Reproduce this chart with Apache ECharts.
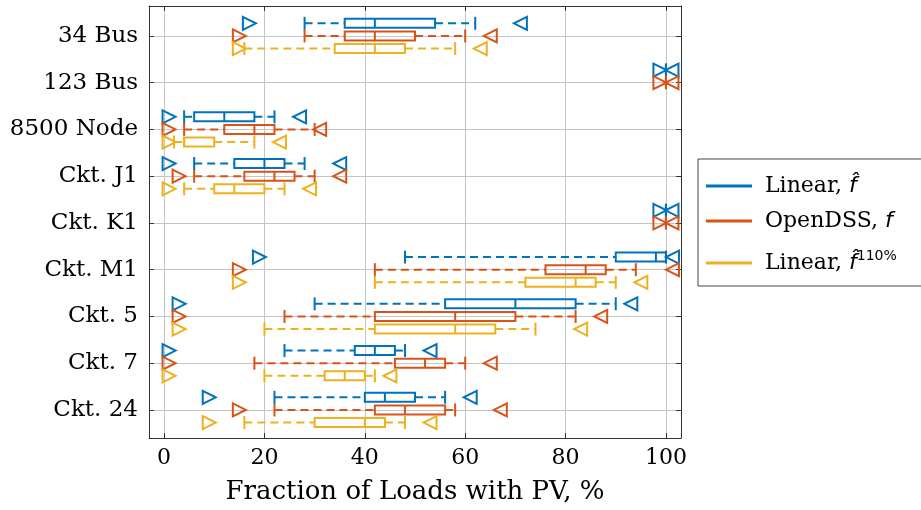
<!DOCTYPE html>
<html><head><meta charset="utf-8">
<script src="https://cdn.jsdelivr.net/npm/echarts@6/dist/echarts.min.js"></script>
<style>html,body{margin:0;padding:0;background:#fff}#c{width:921px;height:510px}</style>
</head><body><div id="c"></div>
<script>
const categories = ['34 Bus','123 Bus','8500 Node','Ckt. J1','Ckt. K1','Ckt. M1','Ckt. 5','Ckt. 7','Ckt. 24'];
const xTicks = [0,20,40,60,80,100];
// row: [whiskerLow, q1, median, q3, whiskerHigh, minMarker, maxMarker]
const linearF = [
  [28,36,42,54,62,17,71],
  [100,100,100,100,100,98.8,101.2],
  [4,6,12,18,22,1,27],
  [6,14,20,24,28,1,35],
  [100,100,100,100,100,98.8,101.2],
  [48,90,98,100,100,19,101.3],
  [30,56,70,82,90,3,93],
  [24,38,42,46,48,1,53],
  [22,40,44,50,56,9,61]
];
const openDSS = [
  [28,36,42,50,60,15,65],
  [100,100,100,100,100,98.8,101.2],
  [4,12,18,22,30,1,31],
  [6,16,22,26,30,3,35],
  [100,100,100,100,100,98.8,101.2],
  [42,76,84,88,94,15,101.3],
  [24,42,58,70,82,3,87],
  [18,46,52,56,60,1,65],
  [22,42,48,56,58,15,67]
];
const linear110 = [
  [16,34,42,48,58,15,63],
  null,
  [2,4,4,10,18,1,23],
  [4,10,14,20,24,1,29],
  null,
  [42,72,82,86,90,15,95],
  [20,42,58,66,74,3,83],
  [20,32,36,40,42,1,45],
  [16,30,40,44,48,9,53]
];
const seriesNames = ['Linear, f\u0302','OpenDSS, f','Linear, f\u0302110%'];
const seriesColors = ['#0072BD','#D95319','#EDB120'];
const seriesOffsets = [-0.27, 0, 0.27];
const seriesRows = [linearF, openDSS, linear110];

const FONT = 'DejaVu Serif';
function renderItem(params, api){
  const pos = api.value(0);
  const v = [1,2,3,4,5,6,7].map(k => api.value(k));
  const cy = api.coord([0,pos])[1];
  const X = val => api.coord([val,pos])[0];
  const color = api.visual('color');
  const hb = 4.5, hc = 6.5, s = 6.5, lw = 2;
  const solid = {stroke:color, lineWidth:lw, fill:null};
  const dashed = {stroke:color, lineWidth:lw, lineDash:[8,5], fill:null};
  const ch = [];
  const [wl,q1,md,q3,wh,tmin,tmax] = v;
  if (X(q1)-X(wl) > 0.5) ch.push({type:'line', shape:{x1:X(wl),y1:cy,x2:X(q1),y2:cy}, style:dashed});
  if (X(wh)-X(q3) > 0.5) ch.push({type:'line', shape:{x1:X(q3),y1:cy,x2:X(wh),y2:cy}, style:dashed});
  ch.push({type:'line', shape:{x1:X(wl),y1:cy-hc,x2:X(wl),y2:cy+hc}, style:solid});
  ch.push({type:'line', shape:{x1:X(wh),y1:cy-hc,x2:X(wh),y2:cy+hc}, style:solid});
  ch.push({type:'rect', shape:{x:X(q1),y:cy-hb,width:X(q3)-X(q1),height:2*hb}, style:{stroke:color,lineWidth:lw,fill:null}});
  ch.push({type:'line', shape:{x1:X(md),y1:cy-hb,x2:X(md),y2:cy+hb}, style:solid});
  const a = X(tmin), b = X(tmax);
  ch.push({type:'polygon', shape:{points:[[a-s,cy-s],[a+s,cy],[a-s,cy+s]]}, style:{stroke:color,lineWidth:lw,fill:null,lineJoin:'miter'}});
  ch.push({type:'polygon', shape:{points:[[b+s,cy-s],[b-s,cy],[b+s,cy+s]]}, style:{stroke:color,lineWidth:lw,fill:null,lineJoin:'miter'}});
  return {type:'group', children:ch};
}

const series = seriesNames.map((name, si) => ({
  name, type:'custom', renderItem, clip:false,
  xAxisIndex:0, yAxisIndex:0,
  itemStyle:{color:seriesColors[si]},
  encode:{x:[1,2,3,4,5,6,7], y:0},
  data: seriesRows[si].map((r,i) => r ? [i+1+seriesOffsets[si], ...r] : null).filter(d => d)
}));

const axisLineStyle = {lineStyle:{color:'#333', width:1}};
const chart = echarts.init(document.getElementById('c'), null, {renderer:'canvas'});
chart.setOption({
  animation:false,
  backgroundColor:'#fff',
  grid:{left:149, right:240, top:6, bottom:72, containLabel:false},
  xAxis:[{
    type:'value', min:-3, max:103, splitNumber:5, position:'bottom',
    axisLine:{show:true, onZero:false, ...axisLineStyle},
    axisTick:{show:true, inside:true, length:5, lineStyle:{color:'#333'}},
    axisLabel:{color:'#000', fontFamily:FONT, fontSize:22, margin:9,
      formatter: val => xTicks.includes(val) ? String(val) : ''},
    splitLine:{show:true, lineStyle:{color:'#c4c4c4', width:1}},
    name:'Fraction of Loads with PV, %', nameLocation:'middle', nameGap:41,
    nameTextStyle:{color:'#000', fontFamily:FONT, fontSize:26}
  },{
    type:'value', min:-3, max:103, splitNumber:5, position:'top',
    axisLine:{show:true, onZero:false, ...axisLineStyle},
    axisTick:{show:true, inside:true, length:5, lineStyle:{color:'#333'}},
    axisLabel:{show:false}, splitLine:{show:false}
  }],
  yAxis:[{
    type:'value', inverse:true, min:0.36, max:9.6, splitNumber:9, position:'left',
    axisLine:{show:true, onZero:false, ...axisLineStyle},
    axisTick:{show:true, inside:true, length:5, lineStyle:{color:'#333'}},
    axisLabel:{color:'#000', fontFamily:FONT, fontSize:23, margin:11,
      formatter: val => (Number.isInteger(val) && val>=1 && val<=9) ? categories[val-1] : ''},
    splitLine:{show:true, lineStyle:{color:'#c4c4c4', width:1}}
  },{
    type:'value', inverse:true, min:0.36, max:9.6, splitNumber:9, position:'right',
    axisLine:{show:true, onZero:false, ...axisLineStyle},
    axisTick:{show:true, inside:true, length:5, lineStyle:{color:'#333'}},
    axisLabel:{show:false}, splitLine:{show:false}
  }],
  legend:{
    orient:'vertical', left:698, top:159,
    padding:[15,40,4,8], itemGap:11,
    itemWidth:46, itemHeight:3, icon:'rect',
    borderColor:'#444', borderWidth:1, backgroundColor:'#fff',
    data:seriesNames,
    formatter: name => {
      if (name === seriesNames[0]) return 'Linear, {i|f\u0302}';
      if (name === seriesNames[1]) return 'OpenDSS, {i|f}';
      return 'Linear, {i|f\u0302}{sup|110%}';
    },
    textStyle:{color:'#000', fontFamily:FONT, fontSize:22, lineHeight:24, padding:[0,0,0,8],
      rich:{
        i:{fontFamily:'DejaVu Sans', fontStyle:'italic', fontSize:22, color:'#000', lineHeight:24},
        sup:{fontFamily:'DejaVu Sans', fontSize:14, color:'#000', padding:[0,0,14,0], lineHeight:38}
      }}
  },
  series
});
</script></body></html>
